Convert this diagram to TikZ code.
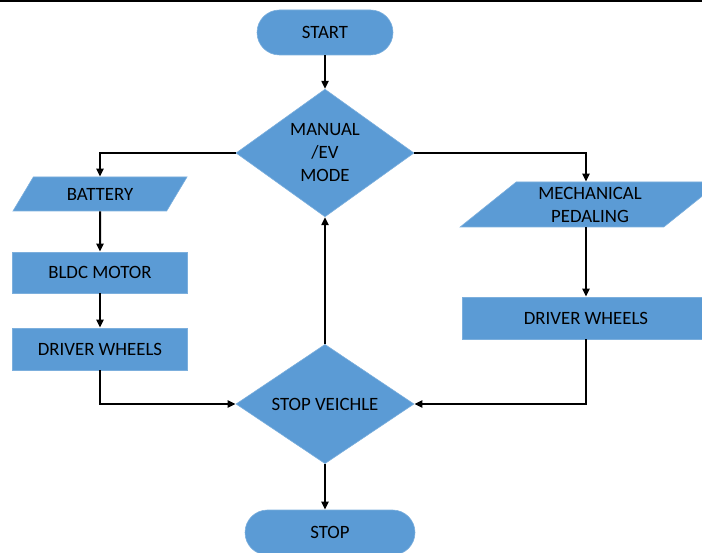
\documentclass[tikz,border=0pt]{standalone}
\usepackage{fontspec}
\setmainfont{Carlito}
\usetikzlibrary{shapes.geometric,arrows.meta}
\definecolor{boxblue}{RGB}{91,155,213}
\tikzset{
  blk/.style={fill=boxblue, draw=boxblue!80!white, line width=0.6pt, text=black,
    font=\fontsize{18.8}{23}\selectfont, align=center, inner sep=0pt},
  term/.style={blk, rectangle, rounded corners=22.5pt, minimum height=45pt},
  proc/.style={blk, rectangle, minimum height=42pt},
  io/.style={blk, trapezium, trapezium stretches=true},
  dec/.style={blk, diamond, minimum width=178pt, minimum height=118pt},
  wire/.style={line width=2pt},
  arr/.style={wire, -{Triangle[length=8pt,width=7pt]}}
}
\begin{document}
\begin{tikzpicture}[x=1pt,y=-1pt]
  \clip (0,0) rectangle (702,553);
  \draw[line width=2pt] (0,1)--(702,1);

  \node[term, minimum width=136pt] (start) at (325,32.5) {START};
  \node[dec] (mode) at (325,153) {MANUAL\\/EV\\MODE};
  \node[io, trapezium left angle=50, trapezium right angle=130,
    minimum width=175pt, minimum height=34pt] (bat) at (100,194) {BATTERY};
  \node[proc, minimum width=175pt, minimum height=41pt] (motor) at (100,272.5) {BLDC MOTOR};
  \node[proc, minimum width=175pt] (dwl) at (100,349) {DRIVER WHEELS};
  \node[io, trapezium left angle=42, trapezium right angle=138,
    minimum width=260pt, minimum height=45pt] (mech) at (590,204.5) {MECHANICAL\\PEDALING};
  \node[proc, minimum width=248pt] (dwr) at (586,318) {DRIVER WHEELS};
  \node[dec] (stopv) at (325,404) {STOP VEICHLE};
  \node[term, minimum width=170pt] (stop) at (330,532.5) {STOP};

  % connectors
  \draw[arr] (start) -- (mode);
  \draw[arr] (mode.west) -| (bat.north);
  \draw[arr] (bat) -- (motor);
  \draw[arr] (motor) -- (dwl);
  \draw[arr] (dwl.south) |- (stopv.west);
  \draw[arr] (mode.east) -| (dwr.north |- mech.north);
  \draw[arr] (dwr.north |- mech.south) -- (dwr.north);
  \draw[arr] (dwr.south) |- (stopv.east);
  \draw[arr] (stopv) -- (mode);
  \draw[arr] (stopv.south) -- (stopv.south |- stop.north);
\end{tikzpicture}
\end{document}
